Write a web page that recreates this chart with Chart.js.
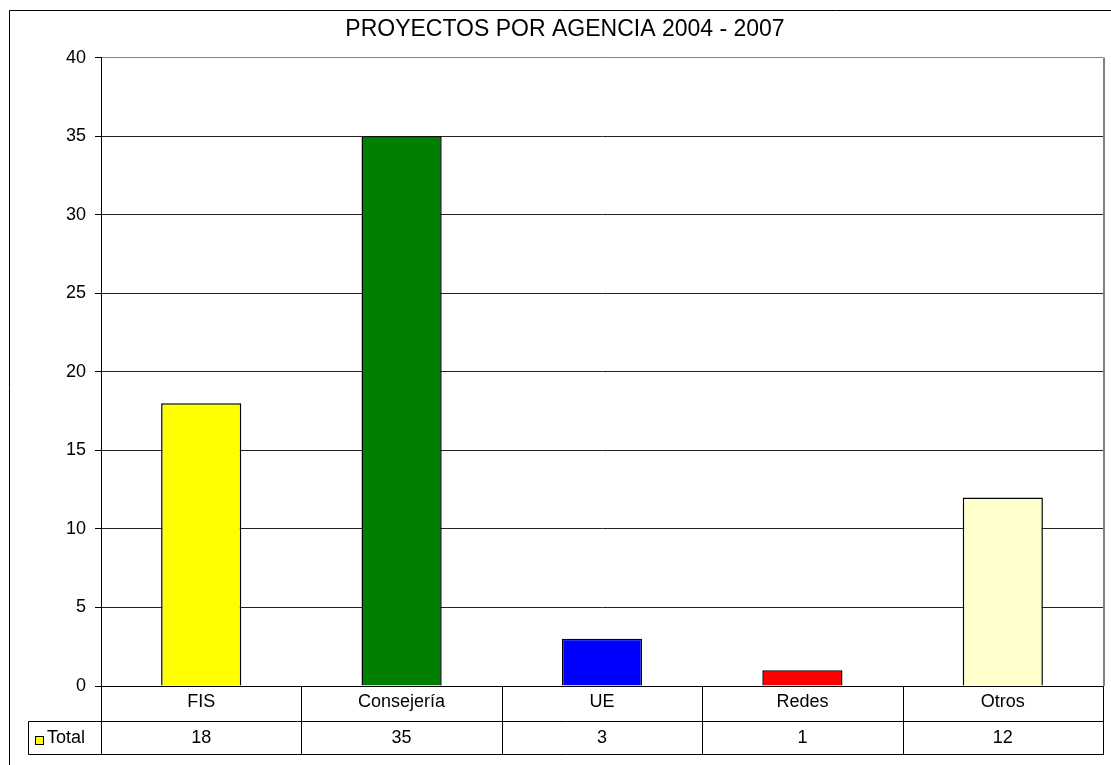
<!DOCTYPE html>
<html>
<head>
<meta charset="utf-8">
<script src="https://cdn.jsdelivr.net/npm/chart.js@4/dist/chart.umd.min.js"></script>
<style>
    body { margin: 0; background: #fff; }
    #wrap { width: 1111px; height: 765px; }
</style>
</head>
<body>
<div id="wrap"><canvas id="chart" width="1111" height="765"></canvas></div>
<script>
// Chart data
const categories = ['FIS', 'Consejería', 'UE', 'Redes', 'Otros'];
const totals = [18, 35, 3, 1, 12];
const barColors = ['#FFFF00', '#008000', '#0000FF', '#FF0000', '#FFFFCC'];
const seriesName = 'Total';
const yTicks = { min: 0, max: 40, step: 5 };

const FONT = "'Liberation Sans', Arial, sans-serif";
Chart.defaults.font.family = FONT;
Chart.defaults.color = '#000';

/**
 * Frame around the whole chart, white background.
 */
const frame = {
    id: 'frame',
    beforeDraw(chart) {
        const ctx = chart.ctx;
        ctx.save();
        ctx.fillStyle = '#fff';
        ctx.fillRect(0, 0, chart.width, chart.height);
        ctx.strokeStyle = '#000';
        ctx.lineWidth = 1;
        ctx.beginPath();
        ctx.moveTo(9.5, chart.height);
        ctx.lineTo(9.5, 10.5);
        ctx.lineTo(chart.width, 10.5);
        ctx.stroke();
        ctx.restore();
    }
};

/**
 * Excel style data table under the plot: category row + series row.
 */
const dataTable = {
    id: 'dataTable',
    afterDraw(chart) {
        const { ctx, chartArea } = chart;
        const x = chart.scales.x;
        const top = chartArea.bottom;
        const mid = top + 35;
        const bot = top + 68;
        const right = chartArea.right;
        const step = x.getPixelForValue(1) - x.getPixelForValue(0);
        const legendLeft = 28;

        ctx.save();
        // plot border top/right (gray)
        ctx.strokeStyle = '#808080';
        ctx.lineWidth = 2;
        ctx.beginPath();
        ctx.moveTo(right + 1, chartArea.top);
        ctx.lineTo(right + 1, top);
        ctx.stroke();

        ctx.lineWidth = 1;
        ctx.strokeStyle = '#000';
        ctx.beginPath();
        // horizontal lines
        ctx.moveTo(legendLeft + 0.5, Math.round(mid) + 0.5);
        ctx.lineTo(right + 1, Math.round(mid) + 0.5);
        ctx.moveTo(legendLeft + 0.5, Math.round(bot) + 0.5);
        ctx.lineTo(right + 1, Math.round(bot) + 0.5);
        // left edge of legend cell
        ctx.moveTo(legendLeft + 0.5, Math.round(mid) + 0.5);
        ctx.lineTo(legendLeft + 0.5, Math.round(bot) + 0.5);
        // vertical separators
        for (let i = 0; i <= categories.length; i++) {
            const px = Math.round(x.getPixelForValue(i) - step / 2) + 0.5;
            ctx.moveTo(px, top);
            ctx.lineTo(px, Math.round(bot) + 0.5);
        }
        ctx.stroke();

        // legend key + series name
        ctx.fillStyle = barColors[0];
        ctx.fillRect(35.5, 736.5, 8, 8);
        ctx.strokeRect(35.5, 736.5, 8, 8);
        ctx.fillStyle = '#000';
        ctx.font = `18px ${FONT}`;
        ctx.textBaseline = 'middle';
        ctx.textAlign = 'left';
        ctx.fillText(seriesName, 47, (mid + bot) / 2 + 1);

        // values
        ctx.textAlign = 'center';
        totals.forEach((v, i) => {
            ctx.fillText(String(v), x.getPixelForValue(i), (mid + bot) / 2 + 1);
        });
        ctx.restore();
    }
};

const config = {
    type: 'bar',
    data: {
        labels: categories,
        datasets: [{
            label: seriesName,
            data: totals,
            backgroundColor: barColors,
            borderColor: '#000',
            borderWidth: 1.5,
            categoryPercentage: 1,
            barPercentage: 0.4
        }]
    },
    options: {
        responsive: false,
        animation: false,
        layout: { padding: { left: 27, right: 8, top: 0, bottom: 0 } },
        plugins: {
            legend: { display: false },
            tooltip: { enabled: false },
            title: {
                display: true,
                text: 'PROYECTOS POR AGENCIA 2004 - 2007',
                color: '#000',
                font: { size: 23, weight: 'normal', family: FONT },
                padding: { top: 16, bottom: 14 }
            }
        },
        scales: {
            x: {
                grid: { display: false, drawTicks: false },
                border: { display: true, color: '#000', width: 1 },
                ticks: { font: { size: 18 }, color: '#000', padding: 5 },
                afterFit(scale) { scale.height = 79; }
            },
            y: {
                min: yTicks.min,
                max: yTicks.max,
                ticks: { stepSize: yTicks.step, font: { size: 18 }, color: '#000', padding: 9 },
                grid: {
                    color: (c) => (c.tick && c.tick.value === yTicks.max ? '#808080' : '#222'),
                    tickColor: '#000',
                    tickLength: 6,
                    lineWidth: 1
                },
                border: { display: true, color: '#000', width: 1 },
                afterFit(scale) { scale.width = 74; }
            }
        }
    },
    plugins: [frame, dataTable]
};

new Chart(document.getElementById('chart'), config);
</script>
</body>
</html>
